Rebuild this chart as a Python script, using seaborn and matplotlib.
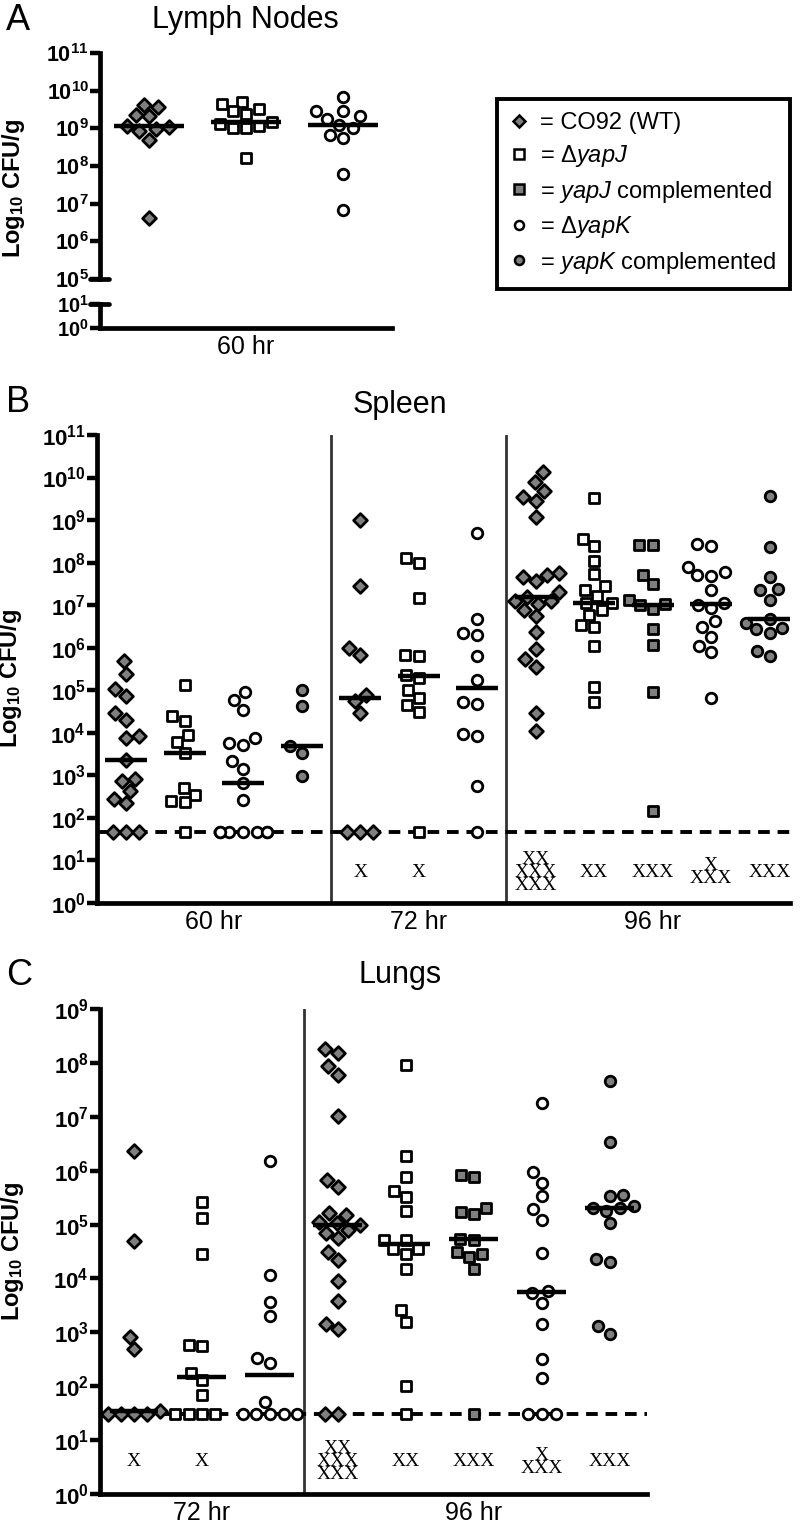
import numpy as np
import pandas as pd
import matplotlib
matplotlib.use("Agg")
import matplotlib.pyplot as plt
import seaborn as sns
from matplotlib.lines import Line2D
from matplotlib.ticker import FixedLocator, FuncFormatter, NullLocator

sns.set_style("ticks", {"axes.edgecolor": "black", "xtick.color": "black",
                        "ytick.color": "black", "text.color": "black",
                        "axes.labelcolor": "black"})
plt.rcParams["font.family"] = ["Liberation Sans", "DejaVu Sans"]
plt.rcParams["mathtext.fontset"] = "custom"
plt.rcParams["mathtext.rm"] = "Liberation Sans"
plt.rcParams["mathtext.it"] = "Liberation Sans:italic"
plt.rcParams["mathtext.bf"] = "Liberation Sans:bold"

# ---- data, log10 CFU/g ----
# WT = CO92, dJ = yapJ deletion, cJ = yapJ complemented, dK = yapK deletion, cK = yapK complemented
lymph_strain = ["WT", "dJ", "dK"]
lymph_time = ["60 hr", "60 hr", "60 hr"]
lymph_log = [
    [9.63, 9.56, 9.36, 9.32, 9.07, 9.03, 8.98, 8.92, 8.70, 6.63],
    [9.71, 9.65, 9.51, 9.45, 9.39, 9.16, 9.12, 9.07, 9.01, 9.01, 8.22],
    [9.83, 9.47, 9.47, 9.32, 9.25, 9.10, 9.01, 8.81, 8.75, 7.80, 6.83],
]
lymph_at_lod = [0, 0, 0]

spleen_strain = ["WT", "dJ", "dK", "cK", "WT", "dJ", "dK", "WT", "dJ", "cJ", "dK", "cK"]
spleen_time = ["60 hr"] * 4 + ["72 hr"] * 3 + ["96 hr"] * 5
spleen_log = [
    [5.68, 5.39, 5.03, 4.87, 4.47, 4.31, 3.93, 3.88, 3.35, 2.92, 2.86, 2.63, 2.45, 2.35],
    [5.13, 4.39, 4.27, 3.96, 3.78, 3.53, 2.71, 2.55, 2.39, 2.37],
    [4.97, 4.78, 4.54, 3.88, 3.76, 3.72, 3.33, 3.14, 2.82, 2.43],
    [5.00, 4.62, 3.70, 3.53, 2.98],
    [9.00, 7.46, 5.99, 5.84, 4.90, 4.74, 4.47],
    [8.10, 8.00, 7.17, 5.84, 5.80, 5.37, 5.29, 5.00, 4.82, 4.65, 4.49],
    [8.69, 6.68, 6.34, 6.31, 5.81, 5.25, 4.72, 4.68, 3.98, 3.93, 2.76],
    [10.12, 9.90, 9.69, 9.55, 9.46, 9.07, 7.75, 7.71, 7.67, 7.56, 7.30, 7.20,
     7.09, 7.09, 7.03, 6.88, 6.74, 6.38, 5.97, 5.73, 5.55, 4.47, 4.04],
    [9.51, 8.55, 8.39, 8.05, 7.74, 7.46, 7.36, 7.22, 7.06, 7.06, 6.88, 6.77,
     6.54, 6.49, 6.03, 5.07, 4.73],
    [8.42, 8.42, 7.71, 7.50, 7.13, 7.03, 7.00, 6.91, 6.45, 6.06, 4.97, 2.16],
    [8.44, 8.38, 7.89, 7.77, 7.71, 7.69, 7.36, 7.05, 7.01, 6.93, 6.62, 6.49,
     6.25, 6.05, 5.91, 4.83],
    [9.57, 8.36, 7.66, 7.38, 7.36, 7.13, 6.68, 6.59, 6.46, 6.44, 6.34, 5.93, 5.80],
]
spleen_at_lod = [3, 1, 7, 0, 3, 1, 1, 0, 0, 0, 0, 0]
spleen_dead = [0, 0, 0, 0, 1, 1, 0, 8, 2, 3, 4, 3]
spleen_lod = 1.66

lung_strain = ["WT", "dJ", "dK", "WT", "dJ", "cJ", "dK", "cK"]
lung_time = ["72 hr"] * 3 + ["96 hr"] * 5
lung_log = [
    [6.36, 4.70, 2.91, 2.69, 1.54],
    [5.41, 5.13, 4.45, 2.77, 2.75, 2.24, 2.11, 1.83],
    [6.18, 4.06, 3.57, 3.30, 2.52, 2.44, 1.71],
    [8.25, 8.18, 7.94, 7.78, 7.01, 5.82, 5.70, 5.21, 5.18, 5.05, 5.02, 4.99,
     4.90, 4.85, 4.75, 4.49, 4.34, 3.96, 3.59, 3.15, 3.06],
    [7.97, 6.28, 5.88, 5.62, 5.51, 5.25, 4.71, 4.71, 4.54, 4.54, 4.45, 4.18,
     3.41, 3.19, 2.00],
    [5.92, 5.88, 5.30, 5.24, 5.20, 4.74, 4.71, 4.49, 4.45, 4.39, 4.17],
    [7.25, 5.98, 5.78, 5.53, 5.29, 5.09, 4.47, 3.77, 3.73, 3.55, 3.16, 2.50, 2.15],
    [7.66, 6.53, 5.55, 5.53, 5.35, 5.31, 5.31, 5.26, 5.02, 4.36, 4.31, 3.12, 2.97],
]
lung_at_lod = [4, 4, 5, 2, 1, 1, 3, 0]
lung_dead = [1, 1, 0, 8, 2, 3, 4, 3]
lung_lod = 1.48

legend_labels = ["= CO92 (WT)", "= \u0394$\\mathit{yapJ}$", "= $\\mathit{yapJ}$ complemented",
                 "= \u0394$\\mathit{yapK}$", "= $\\mathit{yapK}$ complemented"]

GRAY = "#7f7f7f"
styles = {
    "WT": dict(marker="D", color=GRAY, size=7.0),
    "dJ": dict(marker="s", color="white", size=7.2),
    "cJ": dict(marker="s", color=GRAY, size=7.2),
    "dK": dict(marker="o", color="white", size=7.6),
    "cK": dict(marker="o", color=GRAY, size=7.6),
}

W, H = 800, 1532
YLABEL = r"$\mathbf{Log_{10}\ CFU/g}$"


def box(x0, y_top, x1, y_bot):
    # pixel box -> figure fraction
    return [x0 / W, 1 - y_bot / H, (x1 - x0) / W, (y_bot - y_top) / H]


def dead_text(n):
    rows = []
    while n > 0:
        rows.insert(0, "X" * min(3, n))
        n -= 3
    return "\n".join(rows)


def log_axis(ax, lo, hi, labelsize=16):
    ax.set_yscale("log")
    ax.set_ylim(10.0 ** lo, 10.0 ** hi)
    ax.yaxis.set_major_locator(FixedLocator(10.0 ** np.arange(lo, hi + 1)))
    ax.yaxis.set_minor_locator(NullLocator())
    ax.yaxis.set_major_formatter(
        FuncFormatter(lambda v, p: r"$\mathbf{10^{%d}}$" % round(np.log10(v))))
    ax.tick_params(axis="y", direction="out", length=7, width=3.2, labelsize=labelsize, pad=1)
    ax.tick_params(axis="x", length=0, labelsize=18, pad=5)
    for s in ["top", "right"]:
        ax.spines[s].set_visible(False)
    for s in ["left", "bottom"]:
        ax.spines[s].set_linewidth(3.4)
    ax.set_xlabel("")


def draw_points(ax, strains, logs, at_lod, lod, times, xmax):
    order = [str(i) for i in range(len(strains))]
    rows = []
    for i, (code, vals, n) in enumerate(zip(strains, logs, at_lod)):
        for v in list(vals) + [lod] * n:
            rows.append((order[i], code, times[i], 10.0 ** v))
    df = pd.DataFrame(rows, columns=["col", "strain", "time", "cfu"])
    for code, st in styles.items():
        sub = df[df["strain"] == code]
        if sub.empty:
            continue
        sns.swarmplot(data=sub, x="col", y="cfu", order=order, marker=st["marker"],
                      color=st["color"], size=st["size"], edgecolor="black",
                      linewidth=2.0, log_scale=True, warn_thresh=1, ax=ax, zorder=3)
    med = df.groupby("col")["cfu"].median()
    for i, c in enumerate(order):
        ax.hlines(med[c], i - 0.36, i + 0.36, color="black", lw=3.2, zorder=5)
    ax.set_xlim(-0.5, xmax)
    # time labels centred under each block of columns
    pos = pd.Series(range(len(times)), index=times)
    centers = pos.groupby(level=0).mean()
    ax.set_xticks(centers.values)
    ax.set_xticklabels(centers.index)
    return df


fig = plt.figure(figsize=(W / 100, H / 100), dpi=100)

# ---------------- A: lymph nodes (broken axis) ----------------
axA = fig.add_axes(box(100, 53, 392, 279))
axA2 = fig.add_axes(box(100, 304, 392, 328))
draw_points(axA, lymph_strain, lymph_log, lymph_at_lod, 0, lymph_time, 2.5)
log_axis(axA, 5, 11, labelsize=15.5)
axA.spines["bottom"].set_visible(False)
axA.set_xticks([])
axA.set_ylabel(YLABEL, fontsize=17)
axA.yaxis.set_label_coords(-0.25, 0.4)
axA.plot([-0.035, 0.03], [0, 0], transform=axA.transAxes, color="black", lw=3.4, clip_on=False)

log_axis(axA2, 0, 1, labelsize=14.5)
axA2.set_xlim(axA.get_xlim())
axA2.set_xticks([1])
axA2.set_xticklabels(["60 hr"])
axA2.plot([-0.035, 0.03], [1, 1], transform=axA2.transAxes, color="black", lw=3.4, clip_on=False)

# ---------------- B: spleen ----------------
axB = fig.add_axes(box(97, 435, 790, 903))
draw_points(axB, spleen_strain, spleen_log, spleen_at_lod, spleen_lod, spleen_time, 11.35)
log_axis(axB, 0, 11)
axB.axhline(10 ** spleen_lod, color="black", lw=2.8, ls=(0, (3, 2)), zorder=2)
for x in [3.5, 6.5]:
    axB.axvline(x, color="#333333", lw=2, zorder=1)
for i, n in enumerate(spleen_dead):
    if n:
        axB.text(i, 10 ** 0.72, dead_text(n), ha="center", va="center",
                 family="Liberation Serif", fontsize=14, linespacing=0.7)
axB.set_ylabel(YLABEL, fontsize=17)
axB.yaxis.set_label_coords(-0.105, 0.48)

# ---------------- C: lungs ----------------
axC = fig.add_axes(box(100, 1009, 647, 1494))
draw_points(axC, lung_strain, lung_log, lung_at_lod, lung_lod, lung_time, 7.55)
log_axis(axC, 0, 9)
axC.axhline(10 ** lung_lod, color="black", lw=2.8, ls=(0, (3, 2)), zorder=2)
axC.axvline(2.5, color="#333333", lw=2, zorder=1)
for i, n in enumerate(lung_dead):
    if n:
        axC.text(i, 10 ** 0.6, dead_text(n), ha="center", va="center",
                 family="Liberation Serif", fontsize=14, linespacing=0.7)
axC.set_ylabel(YLABEL, fontsize=17)
axC.yaxis.set_label_coords(-0.135, 0.5)

# ---------------- titles, panel letters, legend ----------------
fig.text(245 / W, 1 - 20 / H, "Lymph Nodes", ha="center", va="center", fontsize=22)
fig.text(0.5, 1 - 405 / H, "Spleen", ha="center", va="center", fontsize=22)
fig.text(0.5, 1 - 975 / H, "Lungs", ha="center", va="center", fontsize=22)
for letter, y in [("A", 20), ("B", 403), ("C", 975)]:
    fig.text(6 / W, 1 - y / H, letter, ha="left", va="center", fontsize=26)

handles = [Line2D([], [], ls="", marker=styles[k]["marker"], mfc=styles[k]["color"],
                  mec="black", mew=1.8, ms=6.5 if k != "WT" else 6)
           for k in ["WT", "dJ", "cJ", "dK", "cK"]]
leg = fig.legend(handles, legend_labels, loc="upper left",
                 bbox_to_anchor=(485 / W, 1 - 87 / H), frameon=True, fancybox=False,
                 edgecolor="black", framealpha=1, fontsize=17, handlelength=0.8,
                 handletextpad=0.5, labelspacing=0.4, borderpad=0.55)
leg.get_frame().set_linewidth(2.8)

fig.savefig("out.png", dpi=100)
